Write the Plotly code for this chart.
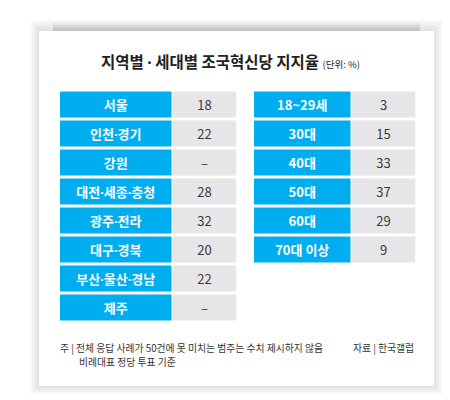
import plotly.graph_objects as go

# ---- data ----
region_labels = ["서울", "인천·경기", "강원", "대전·세종·충청", "광주·전라", "대구·경북", "부산·울산·경남", "제주"]
region_values = [18, 22, None, 28, 32, 20, 22, None]
age_labels = ["18~29세", "30대", "40대", "50대", "60대", "70대 이상"]
age_values = [3, 15, 33, 37, 29, 9]

title_text = "지역별 · 세대별 조국혁신당 지지율"
unit_text = "(단위: %)"
note_line1 = "주 | 전체 응답 사례가 50건에 못 미치는 범주는 수치 제시하지 않음"
note_line2 = "비례대표 정당 투표 기준"
source_text = "자료 | 한국갤럽"

# ---- style ----
W, H = 450, 400
BLUE = "#00aeef"
GRAY = "#e6e6e8"
FONT = "Noto Sans CJK KR"
NARROW_DOT = "<span style='font-family:Noto Sans'>·</span>"


def px_x(v):
    return v / W


def px_y(v):
    return 1 - v / H


def fmt(v):
    return "–" if v is None else str(v)


def narrow(s):
    return s.replace("·", NARROW_DOT)


fig = go.Figure()

tables = [
    dict(labels=region_labels, values=region_values, xa="x", ya="y", lw=111.5, vw=64),
    dict(labels=age_labels, values=age_values, xa="x2", ya="y2", lw=96.5, vw=64),
]

for t in tables:
    n = len(t["labels"])
    rows = list(range(n))
    fig.add_trace(go.Bar(
        orientation="h", y=rows, x=[t["lw"]] * n, base=0,
        marker=dict(color=BLUE, line=dict(width=0)),
        text=[f"<b>{narrow(s)}</b>" for s in t["labels"]],
        textposition="inside", insidetextanchor="middle", textangle=0,
        constraintext="none",
        textfont=dict(family=FONT, size=13, color="white"),
        width=0.9, xaxis=t["xa"], yaxis=t["ya"], hoverinfo="skip", showlegend=False,
    ))
    fig.add_trace(go.Bar(
        orientation="h", y=rows, x=[t["vw"]] * n, base=t["lw"] + 1,
        marker=dict(color=GRAY, line=dict(width=0)),
        text=[fmt(v) for v in t["values"]],
        textposition="inside", insidetextanchor="middle", textangle=0,
        constraintext="none",
        textfont=dict(family=FONT, size=13, color="#3a3a3a"),
        width=0.9, xaxis=t["xa"], yaxis=t["ya"], hoverinfo="skip", showlegend=False,
    ))

pitch = 29
top = 82
y_dom = [px_y(top + 8 * pitch), px_y(top)]

ax_common = dict(showgrid=False, zeroline=False, showticklabels=False, showline=False, fixedrange=True)

left_total = tables[0]["lw"] + 1 + tables[0]["vw"]
right_total = tables[1]["lw"] + 1 + tables[1]["vw"]

fig.update_layout(
    width=W, height=H,
    margin=dict(l=0, r=0, t=0, b=0),
    paper_bgcolor="white", plot_bgcolor="rgba(0,0,0,0)",
    barmode="overlay",
    xaxis=dict(domain=[px_x(52), px_x(52 + left_total)], range=[0, left_total], **ax_common),
    yaxis=dict(domain=y_dom, range=[7.5, -0.5], **ax_common),
    xaxis2=dict(domain=[px_x(246), px_x(246 + right_total)], range=[0, right_total], anchor="y2", **ax_common),
    yaxis2=dict(domain=y_dom, range=[7.5, -0.5], anchor="x2", **ax_common),
    font=dict(family=FONT),
)

# soft card shadow + card
shapes = []
for i in range(1, 11):
    shapes.append(dict(type="rect", xref="paper", yref="paper", layer="below",
                       x0=px_x(31 - i * 0.9), x1=px_x(426 + i * 0.9),
                       y0=px_y(378 + i * 0.9), y1=px_y(23 - i * 1.2),
                       fillcolor="rgba(0,0,0,0.012)", line=dict(width=0)))
for i in range(1, 7):
    shapes.append(dict(type="rect", xref="paper", yref="paper", layer="below",
                       x0=px_x(45), x1=px_x(412),
                       y0=px_y(60), y1=px_y(23 - i * 1.5),
                       fillcolor="rgba(0,0,0,0.025)", line=dict(width=0)))
shapes.append(dict(type="rect", xref="paper", yref="paper", layer="below",
                   x0=px_x(31), x1=px_x(426), y0=px_y(378), y1=px_y(23),
                   fillcolor="white", line=dict(width=0)))
fig.update_layout(shapes=shapes)

annotations = [
    dict(text=f"<b>{narrow(title_text)}</b> <span style='font-size:9.5px'>{unit_text}</span>",
         x=px_x(222), y=px_y(53), xref="paper", yref="paper", showarrow=False,
         xanchor="center", yanchor="middle", font=dict(family=FONT, size=15.5, color="#222222")),
    dict(text=note_line1, x=px_x(50), y=px_y(340), xref="paper", yref="paper", showarrow=False,
         xanchor="left", yanchor="middle", font=dict(family=FONT, size=9.8, color="#333333")),
    dict(text=note_line2, x=px_x(69), y=px_y(354), xref="paper", yref="paper", showarrow=False,
         xanchor="left", yanchor="middle", font=dict(family=FONT, size=9.8, color="#333333")),
    dict(text=source_text, x=px_x(408), y=px_y(340), xref="paper", yref="paper", showarrow=False,
         xanchor="right", yanchor="middle", font=dict(family=FONT, size=9.8, color="#333333")),
]
fig.update_layout(annotations=annotations)

fig.write_html("out.html")
